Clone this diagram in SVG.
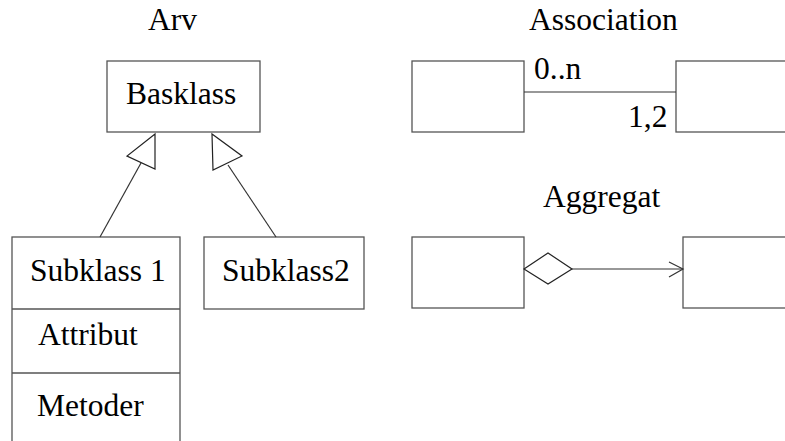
<svg xmlns="http://www.w3.org/2000/svg" width="785" height="441" viewBox="0 0 785 441">
<style>
.box{fill:#fff;stroke:#555;stroke-width:1.3}
.ln{fill:none;stroke:#333;stroke-width:1.2}
.hd{fill:#fff;stroke:#222;stroke-width:1.2}
.t{font-family:'Liberation Serif','Times New Roman',serif;font-size:31.5px;fill:#000}
</style>
<rect width="785" height="441" fill="#fff"/>
<g id="titles" class="t">
<text x="148" y="30">Arv</text>
<text x="529" y="30">Association</text>
<text x="543" y="207">Aggregat</text>
</g>
<g id="basklass"><rect class="box" x="107" y="61" width="153" height="71"/><text class="t" x="126" y="104">Basklass</text></g>
<g id="subklass1">
<rect class="box" x="12" y="237" width="168" height="220"/>
<line class="box" x1="12" y1="309" x2="180" y2="309"/>
<line class="box" x1="12" y1="373" x2="180" y2="373"/>
<text class="t" x="30" y="281">Subklass 1</text>
<text class="t" x="38" y="345">Attribut</text>
<text class="t" x="37" y="416">Metoder</text>
</g>
<g id="subklass2"><rect class="box" x="204" y="237" width="160" height="72"/><text class="t" x="222" y="281">Subklass2</text></g>
<g id="assocA"><rect class="box" x="412" y="61" width="112" height="71"/></g>
<g id="assocB"><rect class="box" x="676" y="61" width="120" height="71"/></g>
<g id="aggA"><rect class="box" x="412" y="237" width="112" height="71"/></g>
<g id="aggB"><rect class="box" x="683" y="237" width="120" height="71"/></g>
<g id="connectors">
<line class="ln" x1="100" y1="237" x2="141" y2="163"/>
<polygon class="hd" points="155,134 155,169 127,156"/>
<line class="ln" x1="276" y1="237" x2="228" y2="165"/>
<polygon class="hd" points="212,134 213,170 242,156"/>
<line class="ln" x1="524" y1="92" x2="676" y2="92"/>
<text class="t" x="534" y="79">0..n</text>
<text class="t" x="628" y="127">1,2</text>
<polygon class="hd" points="524,269 548,253 572,269 548,284"/>
<line class="ln" x1="572" y1="269" x2="683" y2="269"/>
<polyline class="ln" points="669,262 683,269 669,277"/>
</g>
</svg>
